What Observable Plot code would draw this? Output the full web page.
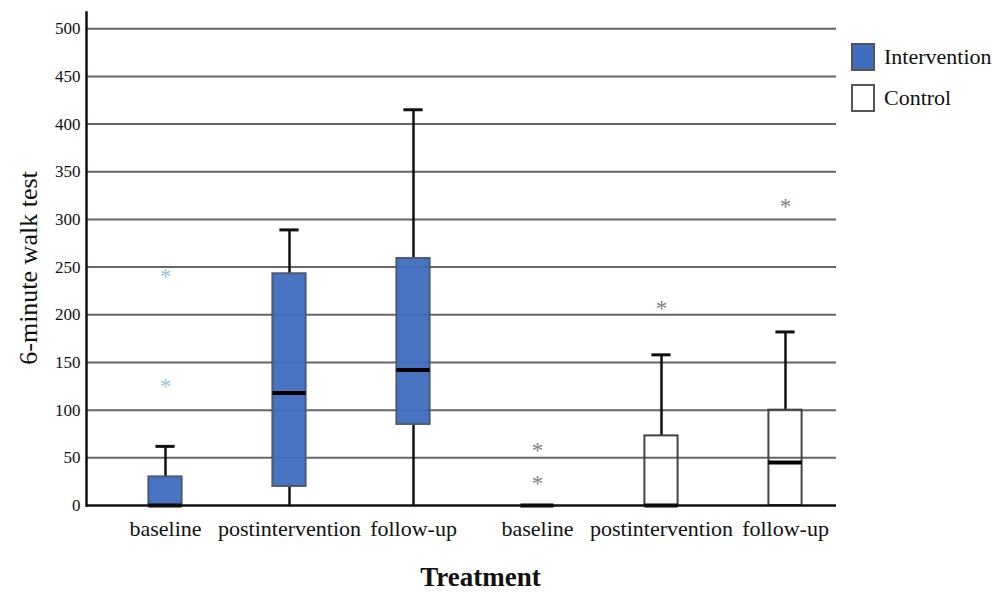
<!DOCTYPE html>
<html><head><meta charset="utf-8">
<script src="https://cdn.jsdelivr.net/npm/d3@7"></script>
<script src="https://cdn.jsdelivr.net/npm/@observablehq/plot@0.6"></script>
<style>
body{margin:0;background:#fff;font-family:"Liberation Serif","Times New Roman",serif;}
#wrap{position:relative;width:995px;height:592px;}
.legend{position:absolute;left:851px;top:36px;font-size:22px;color:#111;}
.item{display:flex;align-items:center;height:41px;}
.sw{width:24px;height:28px;box-sizing:border-box;margin-right:9px;border:2px solid #555;}
</style></head><body>
<div id="wrap"><div id="chart"></div><div class="legend" id="legend"></div></div>
<script>
// ---- data ----
const groups = ["Intervention","Intervention","Intervention","Control","Control","Control"];
const phases = ["baseline","postintervention","follow-up","baseline","postintervention","follow-up"];
const q1Values = [0, 20, 85, 0, 0, 0];
const medianValues = [0, 118, 142, 0, 0, 45];
const q3Values = [30, 243, 259, 0, 73, 100];
const whiskerLow = [0, 0, 0, 0, 0, 0];
const whiskerHigh = [62, 289, 415, 0, 158, 182];
const outlierBox = [0, 0, 3, 3, 4, 5];
const outlierValues = [126, 241, 24, 59, 208, 314];
const yTicks = [0, 50, 100, 150, 200, 250, 300, 350, 400, 450, 500];
const legendLabels = ["Intervention", "Control"];
const yTitle = "6-minute walk test";
const xTitle = "Treatment";
const groupFill = {Intervention: "#3f6dbf", Control: "none"};
const groupStroke = {Intervention: "#4a5a78", Control: "#444"};
const outlierColor = {Intervention: "#9cc3d6", Control: "#808080"};

const keys = groups.map((g, i) => g + "|" + phases[i]);
const boxes = keys.map((k, i) => ({
  key: k, group: groups[i], phase: phases[i],
  q1: q1Values[i], median: medianValues[i], q3: q3Values[i],
  lo: whiskerLow[i], hi: whiskerHigh[i]
}));
const outliers = outlierValues.map((v, j) => ({key: keys[outlierBox[j]], group: groups[outlierBox[j]], value: v}));
const whiskerBoxes = boxes.filter(d => d.hi > d.q3);
const lowerWhiskers = boxes.filter(d => d.q1 > d.lo);
const realBoxes = boxes.filter(d => d.q3 > d.q1);
const phaseLabel = k => k.split("|")[1];

const serif = '"Liberation Serif","Times New Roman",serif';
const chart = Plot.plot({
  width: 995, height: 592,
  marginLeft: 86, marginRight: 159, marginTop: 12, marginBottom: 87,
  style: {fontFamily: serif, background: "white", color: "#111"},
  x: {domain: keys, range: [100.5, 850], padding: 0, tickFormat: phaseLabel, label: null},
  y: {domain: [0, 517], label: null},
  marks: [
    Plot.ruleY(yTicks.filter(t => t > 0), {stroke: "#666", strokeWidth: 2}),
    Plot.axisY({ticks: yTicks, tickSize: 0, tickPadding: 6, fontSize: 17, label: null}),
    Plot.axisX({tickSize: 0, tickPadding: 15, fontSize: 22, tickFormat: phaseLabel, label: null}),
    Plot.text([yTitle], {frameAnchor: "left", text: d => d, rotate: -90, fontSize: 26, lineAnchor: "middle", textAnchor: "middle", dx: -58, dy: 9, fill: "#111"}),
    Plot.text([xTitle], {frameAnchor: "bottom", text: d => d, fontSize: 27, fontWeight: "bold", lineAnchor: "middle", textAnchor: "middle", dx: 19, dy: 72, fill: "#111"}),
    Plot.ruleX(whiskerBoxes, {x: "key", y1: "q3", y2: "hi", stroke: "#111", strokeWidth: 2.5}),
    Plot.ruleX(lowerWhiskers, {x: "key", y1: "lo", y2: "q1", stroke: "#111", strokeWidth: 2.5}),
    Plot.tickY(whiskerBoxes, {x: "key", y: "hi", stroke: "#111", strokeWidth: 3, insetLeft: 52.4, insetRight: 52.4}),
    Plot.barY(realBoxes, {x: "key", y1: "q1", y2: "q3", fill: d => groupFill[d.group], fillOpacity: 0.95, stroke: d => groupStroke[d.group], strokeWidth: 2, insetLeft: 45.4, insetRight: 45.4}),
    Plot.tickY(boxes, {x: "key", y: "median", stroke: "#000", strokeWidth: 4, insetLeft: 45.4, insetRight: 45.4}),
    Plot.text(outliers, {x: "key", y: "value", text: () => "*", fill: d => outlierColor[d.group], fontSize: 23, lineAnchor: "middle", dy: 1}),
    Plot.ruleY([0], {stroke: "#111", strokeWidth: 2.5}),
    Plot.frame({anchor: "left", stroke: "#111", strokeWidth: 2.5})
  ]
});
document.getElementById("chart").appendChild(chart);

const leg = document.getElementById("legend");
legendLabels.forEach(name => {
  const item = document.createElement("div");
  item.className = "item";
  const sw = document.createElement("span");
  sw.className = "sw";
  sw.style.background = groupFill[name] === "none" ? "white" : groupFill[name];
  item.appendChild(sw);
  const t = document.createElement("span");
  t.textContent = name;
  item.appendChild(t);
  leg.appendChild(item);
});
</script>
</body></html>
